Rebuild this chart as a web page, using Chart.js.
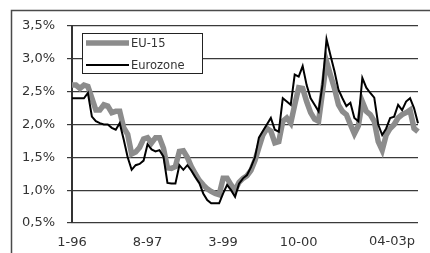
<!DOCTYPE html>
<html>
<head>
<meta charset="utf-8">
<script src="https://cdn.jsdelivr.net/npm/chart.js@4.4.1/dist/chart.umd.min.js"></script>
<style>
html, body { margin: 0; padding: 0; background: #fff; }
#wrap { width: 430px; height: 253px; position: relative; }
</style>
</head>
<body>
<div id="wrap"><canvas id="inflChart"></canvas></div>
<script>
// Monthly categories, Jan 1996 .. Apr 2003
const months = [
    "1-96", "2-96", "3-96", "4-96", "5-96", "6-96", "7-96", "8-96", "9-96", "10-96", "11-96", "12-96",
    "1-97", "2-97", "3-97", "4-97", "5-97", "6-97", "7-97", "8-97", "9-97", "10-97", "11-97", "12-97",
    "1-98", "2-98", "3-98", "4-98", "5-98", "6-98", "7-98", "8-98", "9-98", "10-98", "11-98", "12-98",
    "1-99", "2-99", "3-99", "4-99", "5-99", "6-99", "7-99", "8-99", "9-99", "10-99", "11-99", "12-99",
    "1-00", "2-00", "3-00", "4-00", "5-00", "6-00", "7-00", "8-00", "9-00", "10-00", "11-00", "12-00",
    "1-01", "2-01", "3-01", "4-01", "5-01", "6-01", "7-01", "8-01", "9-01", "10-01", "11-01", "12-01",
    "1-02", "2-02", "3-02", "4-02", "5-02", "6-02", "7-02", "8-02", "9-02", "10-02", "11-02", "12-02",
    "1-03", "2-03", "3-03", "4-03"
];

const eu15 = [
    2.60, 2.60, 2.55, 2.60, 2.58, 2.40, 2.22, 2.22, 2.30, 2.28, 2.18, 2.20,
    2.20, 1.95, 1.85, 1.55, 1.58, 1.65, 1.78, 1.80, 1.72, 1.80, 1.80, 1.64,
    1.34, 1.33, 1.36, 1.59, 1.60, 1.50, 1.36, 1.25, 1.15, 1.08, 1.02, 0.98,
    0.95, 0.93, 1.18, 1.18, 1.08, 1.00, 1.12, 1.18, 1.22, 1.30, 1.45, 1.65,
    1.84, 1.94, 1.90, 1.72, 1.74, 2.05, 2.10, 2.02, 2.30, 2.56, 2.55, 2.35,
    2.18, 2.08, 2.05, 2.50, 2.96, 2.75, 2.55, 2.30, 2.20, 2.15, 2.00, 1.86,
    1.98, 2.35, 2.20, 2.15, 2.05, 1.74, 1.61, 1.84, 1.94, 2.00, 2.10, 2.15,
    2.18, 2.22, 1.94, 1.89
];

const eurozone = [
    2.40, 2.40, 2.40, 2.40, 2.48, 2.12, 2.05, 2.02, 2.00, 2.00, 1.95, 1.92,
    2.02, 1.77, 1.50, 1.31, 1.38, 1.40, 1.45, 1.70, 1.62, 1.59, 1.61, 1.51,
    1.11, 1.10, 1.10, 1.38, 1.31, 1.38, 1.30, 1.20, 1.11, 0.95, 0.85, 0.80,
    0.80, 0.80, 0.95, 1.08, 1.00, 0.90, 1.10, 1.18, 1.23, 1.35, 1.50, 1.80,
    1.90, 2.00, 2.10, 1.92, 1.89, 2.40, 2.35, 2.30, 2.76, 2.73, 2.89, 2.60,
    2.40, 2.30, 2.20, 2.61, 3.30, 3.05, 2.81, 2.53, 2.40, 2.28, 2.33, 2.10,
    2.05, 2.71, 2.56, 2.48, 2.41, 2.00, 1.84, 1.94, 2.10, 2.12, 2.30, 2.22,
    2.35, 2.40, 2.25, 2.02
];

const seriesNames = ["EU-15", "Eurozone"];
const shownTicks = ["1-96", "8-97", "3-99", "10-00"];
const lastTickLabel = "04-03p";

const FONT = "'DejaVu Sans', 'Liberation Sans', Arial, sans-serif";

// white background + outer frame
const framePlugin = {
    id: "frame",
    beforeDraw(chart) {
        const ctx = chart.ctx;
        ctx.save();
        ctx.fillStyle = "#fff";
        ctx.fillRect(0, 0, chart.width, chart.height);
        ctx.strokeStyle = "#4a4a4a";
        ctx.lineWidth = 1.5;
        ctx.strokeRect(11.5, 10.5, chart.width + 20, chart.height + 20);
        ctx.restore();
    },
};

// last x label, right aligned at the end of the axis
const endLabelPlugin = {
    id: "endLabel",
    afterDraw(chart) {
        const xs = chart.scales.x;
        const ctx = chart.ctx;
        ctx.save();
        ctx.font = "13px " + FONT;
        ctx.fillStyle = "#333";
        ctx.textAlign = "right";
        ctx.textBaseline = "top";
        ctx.fillText(lastTickLabel, xs.getPixelForValue(months.length - 1) - 3, xs.top + 12);
        ctx.restore();
    },
};

// boxed legend inside the plot
const boxLegendPlugin = {
    id: "boxLegend",
    afterDraw(chart) {
        const ctx = chart.ctx;
        const x0 = 82, y0 = 33, w = 120, h = 40;
        ctx.save();
        ctx.fillStyle = "#fff";
        ctx.fillRect(x0, y0, w, h);
        ctx.strokeStyle = "#222";
        ctx.lineWidth = 1;
        ctx.strokeRect(x0 + 0.5, y0 + 0.5, w, h);
        ctx.font = "11.5px " + FONT;
        ctx.fillStyle = "#333";
        ctx.textBaseline = "middle";
        chart.data.datasets.forEach((ds, i) => {
            const y = y0 + 10 + i * 22;
            ctx.strokeStyle = ds.borderColor;
            ctx.lineWidth = ds.borderWidth;
            ctx.beginPath();
            ctx.moveTo(x0 + 4, y);
            ctx.lineTo(x0 + 47, y);
            ctx.stroke();
            ctx.fillText(ds.label, x0 + 49, y + 1);
        });
        ctx.restore();
    },
};

const ctx = document.getElementById("inflChart").getContext("2d");
const inflChart = new Chart(ctx, {
    type: "line",
    data: {
        labels: months,
        datasets: [
            {
                label: seriesNames[0],
                data: eu15,
                borderColor: "#8c8c8c",
                borderWidth: 5.5,
                pointRadius: 0,
                tension: 0,
                order: 2,
            },
            {
                label: seriesNames[1],
                data: eurozone,
                borderColor: "#000",
                borderWidth: 2,
                pointRadius: 0,
                tension: 0,
                order: 1,
            },
        ],
    },
    options: {
        responsive: true,
        maintainAspectRatio: false,
        animation: false,
        devicePixelRatio: 1,
        layout: {
            padding: { top: 26, right: 0, bottom: 0, left: 0 },
        },
        plugins: {
            legend: { display: false },
            tooltip: { enabled: false },
        },
        scales: {
            x: {
                offset: false,
                grid: { display: false, drawTicks: false },
                border: { display: false },
                ticks: {
                    autoSkip: false,
                    maxRotation: 0,
                    padding: 12,
                    color: "#333",
                    font: { family: FONT, size: 13 },
                    callback: function (value, index) {
                        const lab = months[index];
                        return shownTicks.includes(lab) ? lab : "";
                    },
                },
                afterFit: (s) => { s.height = 30; },
            },
            y: {
                min: 0.5,
                max: 3.5,
                grid: {
                    color: "#3a3a3a",
                    lineWidth: 1.2,
                    tickLength: 5,
                },
                border: { display: true, color: "#333", width: 2 },
                ticks: {
                    stepSize: 0.5,
                    padding: 12,
                    color: "#333",
                    font: { family: FONT, size: 13 },
                    callback: (v) => v.toFixed(1).replace(".", ",") + "%",
                },
                afterFit: (s) => { s.width = 72; },
            },
        },
    },
    plugins: [framePlugin, endLabelPlugin, boxLegendPlugin],
});
</script>
</body>
</html>
